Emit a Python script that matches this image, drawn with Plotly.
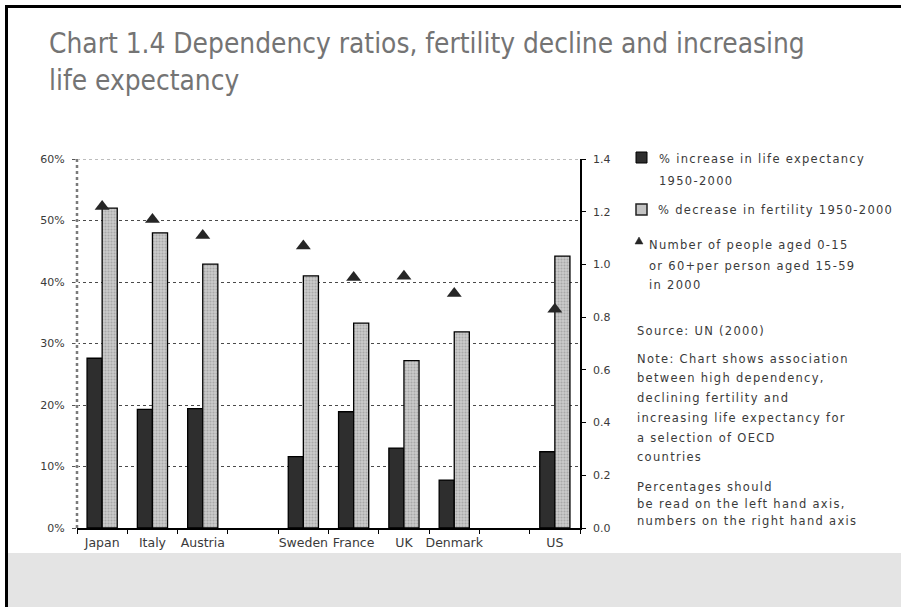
import plotly.graph_objects as go

# --- data -----------------------------------------------------------------
slots = ["Japan", "Italy", "Austria", " ", "Sweden", "France", "UK", "Denmark", "  ", "US"]
countries = ["Japan", "Italy", "Austria", "Sweden", "France", "UK", "Denmark", "US"]
life_exp_increase = [27.6, 19.3, 19.4, 11.6, 18.9, 13.0, 7.8, 12.4]        # % (left axis)
fertility_decrease = [52.0, 48.0, 42.9, 41.0, 33.3, 27.2, 31.9, 44.2]      # % (left axis)
dependency_ratio = [1.22, 1.17, 1.11, 1.07, 0.95, 0.955, 0.89, 0.83]      # right axis

legend_lines = [
    ("% increase in life expectancy", 159, 657),
    ("1950-2000", 181, 657),
    ("% decrease in fertility 1950-2000", 210, 656),
    ("Number of people aged 0-15", 245, 647),
    ("or 60+per person aged 15-59", 266, 647),
    ("in 2000", 285, 647),
]
note_lines = [
    ("Source: UN (2000)", 331),
    ("Note: Chart shows association", 359),
    ("between high dependency,", 378),
    ("declining fertility and", 398),
    ("increasing life expectancy for", 418),
    ("a selection of OECD", 438),
    ("countries", 457),
    ("Percentages should", 487),
    ("be read on the left hand axis,", 504),
    ("numbers on the right hand axis", 521),
]

W, H = 901, 607
L, R, T, B = 77, 580, 159, 528


def px(x):
    return (x - L) / (R - L)


def py(y):
    return (B - y) / (B - T)


def spaced(txt, ls=1.3):
    return f"<span style='letter-spacing:{ls}px'>{txt}</span>"


SMALL = dict(family="DejaVu Sans", size=11.5, color="#3a3a3a")
NOTE = dict(family="DejaVu Sans", size=11.5, color="#3a3a3a")
TITLE = dict(family="DejaVu Sans Condensed", size=27.8, color="#747474")

fig = go.Figure()
fig.add_trace(go.Bar(
    x=countries, y=life_exp_increase, name="% increase in life expectancy 1950-2000",
    marker=dict(color="#2e2e2e", line=dict(color="#000", width=1.3)),
    showlegend=False,
))
fig.add_trace(go.Bar(
    x=countries, y=fertility_decrease, name="% decrease in fertility 1950-2000",
    marker=dict(color="#c8c8c8", line=dict(color="#000", width=1.3),
                pattern=dict(shape=".", fgcolor="#858585", bgcolor="#cbcbcb",
                             size=3, solidity=0.4)),
    showlegend=False,
))
fig.add_trace(go.Scatter(
    x=countries, y=dependency_ratio, yaxis="y2", mode="markers",
    name="Number of people aged 0-15 or 60+ per person aged 15-59 in 2000",
    marker=dict(symbol="triangle-up", size=13, color="#262626"),
    showlegend=False,
))

shapes = [
    # grey footer band
    dict(type="rect", xref="paper", yref="paper", x0=px(8), x1=px(W), y0=py(553), y1=py(H),
         fillcolor="#e4e4e4", line=dict(width=0), layer="below"),
    # page frame (top and left)
    dict(type="line", xref="paper", yref="paper", x0=px(5), x1=px(W), y0=py(6.5), y1=py(6.5),
         line=dict(color="#000", width=3)),
    dict(type="line", xref="paper", yref="paper", x0=px(6.5), x1=px(6.5), y0=py(5), y1=py(H),
         line=dict(color="#000", width=3)),
    # lighter top gridline
    dict(type="line", xref="paper", yref="y", x0=0, x1=1, y0=60, y1=60,
         line=dict(color="#ffffff", width=2)),
    dict(type="line", xref="paper", yref="y", x0=0, x1=1, y0=60, y1=60,
         line=dict(color="#a8a8a8", width=1.5, dash="dot")),
    # dotted left value axis
    dict(type="line", xref="paper", yref="y", x0=0, x1=0, y0=0, y1=60,
         line=dict(color="#ffffff", width=3)),
    dict(type="line", xref="paper", yref="y", x0=0, x1=0, y0=0, y1=60,
         line=dict(color="#7a7a7a", width=2.5, dash="dot")),
    # legend swatches
    dict(type="rect", xref="paper", yref="paper", x0=px(636), x1=px(647), y0=py(152), y1=py(163),
         fillcolor="#2e2e2e", line=dict(color="#000", width=1)),
    dict(type="rect", xref="paper", yref="paper", x0=px(636), x1=px(647), y0=py(204), y1=py(215),
         fillcolor="#c4c4c4", line=dict(color="#222", width=1.5)),
    dict(type="path", xref="paper", yref="paper",
         path=f"M {px(635)},{py(244)} L {px(643)},{py(244)} L {px(639)},{py(237)} Z",
         fillcolor="#262626", line=dict(color="#262626", width=0.5)),
]

annotations = [
    dict(text="Chart 1.4 Dependency ratios, fertility decline and increasing",
         x=px(47), y=py(44), xanchor="left", yanchor="middle", font=TITLE),
    dict(text="life expectancy",
         x=px(47), y=py(80), xanchor="left", yanchor="middle", font=TITLE),
]
for txt, yy, xx in legend_lines:
    annotations.append(dict(text=spaced(txt), x=px(xx), y=py(yy), xanchor="left",
                            yanchor="middle", font=NOTE))
for txt, yy in note_lines:
    annotations.append(dict(text=spaced(txt), x=px(635), y=py(yy), xanchor="left",
                            yanchor="middle", font=NOTE))
for a in annotations:
    a.update(xref="paper", yref="paper", showarrow=False)

fig.update_layout(
    width=W, height=H,
    margin=dict(l=L, r=W - R, t=T, b=H - B, pad=0),
    paper_bgcolor="#ffffff", plot_bgcolor="#ffffff",
    barmode="group", bargap=0.4, bargroupgap=0.0,
    font=SMALL,
    xaxis=dict(
        type="category", categoryorder="array", categoryarray=slots, range=[-0.5, 9.5],
        showline=True, linecolor="#000", linewidth=1.5,
        ticks="outside", tickson="boundaries", ticklen=4, tickcolor="#000",
        showgrid=False, tickangle=0,
        tickfont=dict(family="DejaVu Sans", size=12.5, color="#3a3a3a"),
        ticklabelstandoff=2,
    ),
    yaxis=dict(
        range=[0, 60], dtick=10, ticksuffix="%", showgrid=True,
        gridcolor="#4a4a4a", griddash="dot", gridwidth=1,
        showline=False,
        ticks="outside", ticklen=4, tickcolor="#555", zeroline=False,
        tickfont=dict(family="DejaVu Sans", size=11, color="#3a3a3a"), ticklabelstandoff=5,
    ),
    yaxis2=dict(
        range=[0, 1.4], dtick=0.2, tickformat=".1f", overlaying="y", side="right",
        showline=True, linecolor="#000", linewidth=1.5, showgrid=False, zeroline=False,
        ticks="outside", ticklen=4, tickcolor="#000",
        tickfont=dict(family="DejaVu Sans", size=11, color="#3a3a3a"), ticklabelstandoff=5,
    ),
    shapes=shapes,
    annotations=annotations,
)

fig.write_html("out.html")
